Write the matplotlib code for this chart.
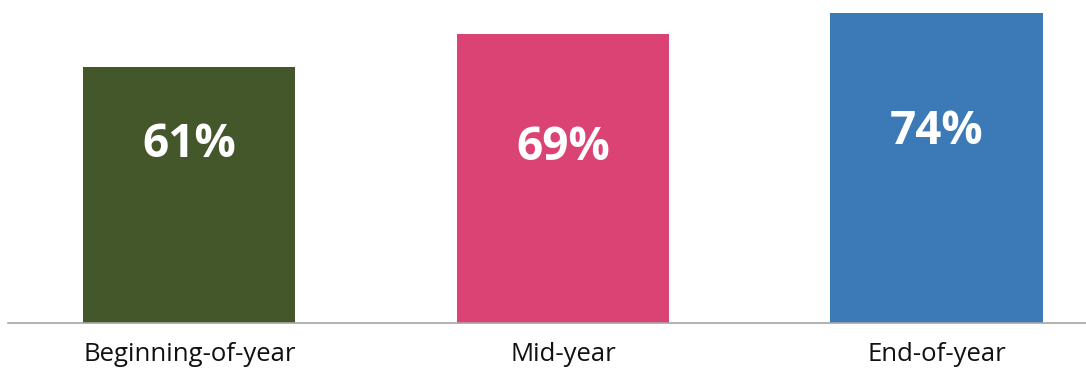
import matplotlib.pyplot as plt

categories = ["Beginning-of-year", "Mid-year", "End-of-year"]
values = [61, 69, 74]
colors = ["#43572b", "#dc4375", "#3b7ab6"]

# label heights inside the bars (data units)
label_y = [42.5, 42.0, 45.8]

fig = plt.figure(figsize=(10.86, 3.69), dpi=100)
ax = fig.add_axes([0.0074, 0.1247, 0.9926, 0.8753])

x = range(len(values))
ax.bar(x, values, width=0.568, color=colors)

for i, v in enumerate(values):
    ax.text(i, label_y[i], f"{v}%", ha="center", va="center", color="white",
            fontsize=33, fontweight="bold", family="Open Sans")

ax.set_xlim(-0.485, 2.40)
ax.set_ylim(0, 77.1)
ax.set_yticks([])
ax.set_xticks(list(x))
ax.set_xticklabels(categories, fontsize=18.5, family="Open Sans", color="#111111")
ax.tick_params(axis="x", length=0, pad=14)
for s in ["top", "right", "left"]:
    ax.spines[s].set_visible(False)
ax.spines["bottom"].set_color("#a6a6a6")
ax.spines["bottom"].set_linewidth(1.2)

fig.savefig("out.png", dpi=100)
